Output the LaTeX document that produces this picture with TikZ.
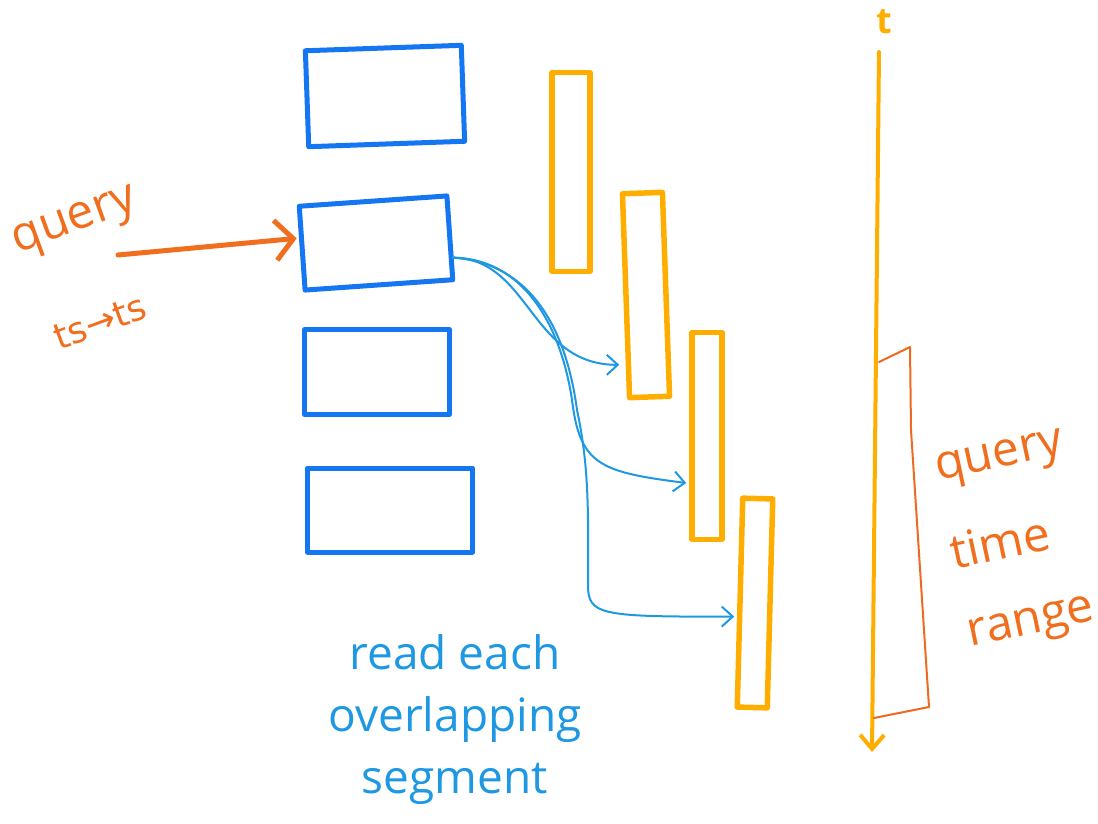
\documentclass[tikz,border=0pt]{standalone}
\usepackage{fontspec}
\setmainfont{Open Sans}
\newfontfamily\symfont{DejaVu Sans}
\usetikzlibrary{arrows.meta}
\definecolor{boxblue}{HTML}{1476F0}
\definecolor{segamber}{HTML}{FFAE00}
\definecolor{linkblue}{HTML}{1E98E2}
\definecolor{noteorange}{HTML}{F06E1E}
\definecolor{rangeorange}{HTML}{EE6A20}
\tikzset{
  blockbox/.style={draw=boxblue, line width=5pt, line join=round, rectangle, inner sep=0pt},
  segbar/.style={draw=segamber, line width=5.5pt, line join=round, rectangle, inner sep=0pt},
  link/.style={draw=linkblue, line width=2pt, line cap=round, -{Straight Barb[length=11pt,width=20pt]}},
  querylink/.style={draw=noteorange, line width=5pt, line cap=round, -{Straight Barb[length=18pt,width=40pt,line width=5pt]}},
  axisline/.style={draw=segamber, line width=4pt, line cap=round, -{Straight Barb[length=14pt,width=24pt,line width=4pt]}},
  rangeline/.style={draw=rangeorange, line width=2pt, line join=round, line cap=round},
  handnote/.style={inner sep=0pt, text=noteorange, font=\fontsize{48}{56}\selectfont},
  bluenote/.style={inner sep=0pt, text=linkblue, align=center, font=\fontsize{46}{62}\selectfont}
}
\begin{document}
\begin{tikzpicture}[x=1pt,y=-1pt]
\useasboundingbox (0,0) rectangle (1098,823);

% index blocks
\node[blockbox, minimum width=156pt, minimum height=96pt, rotate=2] (blk1) at (385,96) {};
\node[blockbox, minimum width=148pt, minimum height=84pt, rotate=4] (blk2) at (376,243) {};
\node[blockbox, minimum width=145pt, minimum height=85pt] (blk3) at (377,372) {};
\node[blockbox, minimum width=165pt, minimum height=84pt] (blk4) at (390,510) {};

% time segments
\node[segbar, minimum width=38pt, minimum height=199pt] (seg1) at (571,172) {};
\node[segbar, minimum width=40pt, minimum height=204pt, rotate=2] (seg2) at (646,295) {};
\node[segbar, minimum width=30pt, minimum height=207pt] (seg3) at (707,436) {};
\node[segbar, minimum width=30pt, minimum height=209pt, rotate=-1.5] (seg4) at (755,603) {};

% query entering the second block
\coordinate (qstart) at (118,255);
\draw[querylink] (qstart) -- ([xshift=-3pt,yshift=10pt]blk2.west);
\node[handnote, rotate=20] (qlabel) at (76,224) {query};
\node[inner sep=0pt, text=noteorange, rotate=20, font=\symfont\fontsize{36}{36}\selectfont] (tslabel) at (100,322) {ts→ts};

% reads fanning out to the overlapping segments
\coordinate (fan) at ([yshift=-20pt]blk2.east);
\draw[link] (fan) .. controls (530,258) and (530,365) .. ([xshift=-4pt,yshift=-69pt]seg2.west);
\draw[link] (fan) .. controls (520,258) and (560,320) .. (572,400)
  .. controls (580,465) and (600,472) .. ([xshift=-3pt,yshift=-47pt]seg3.west);
\draw[link] (fan) .. controls (525,262) and (565,320) .. (577,410)
  .. controls (590,470) and (588,520) .. (588,585)
  .. controls (588,615) and (600,617) .. ([xshift=-3pt,yshift=-14pt]seg4.west);
\node[bluenote] (readlabel) at (455,720) {read each\\overlapping\\segment};

% time axis
\coordinate (tTop) at (879,52);
\coordinate (tEnd) at (872,752);
\draw[axisline] (tTop) -- (tEnd);
\node[inner sep=0pt, text=segamber, font=\fontsize{36}{36}\bfseries\selectfont] (tlabel) at (884,22) {t};

% query time range
\coordinate (rTop) at (879,362);
\coordinate (rBot) at (874,718);
\draw[rangeline] (rTop) -- (910,347) -- (911,430) -- (929,707) -- (rBot);
\node[handnote, rotate=12] (rangeq) at (1000,460) {query};
\node[handnote, rotate=12] (ranget) at (1000,542) {time};
\node[handnote, rotate=12] (ranger) at (1032,626) {range};
\end{tikzpicture}
\end{document}
